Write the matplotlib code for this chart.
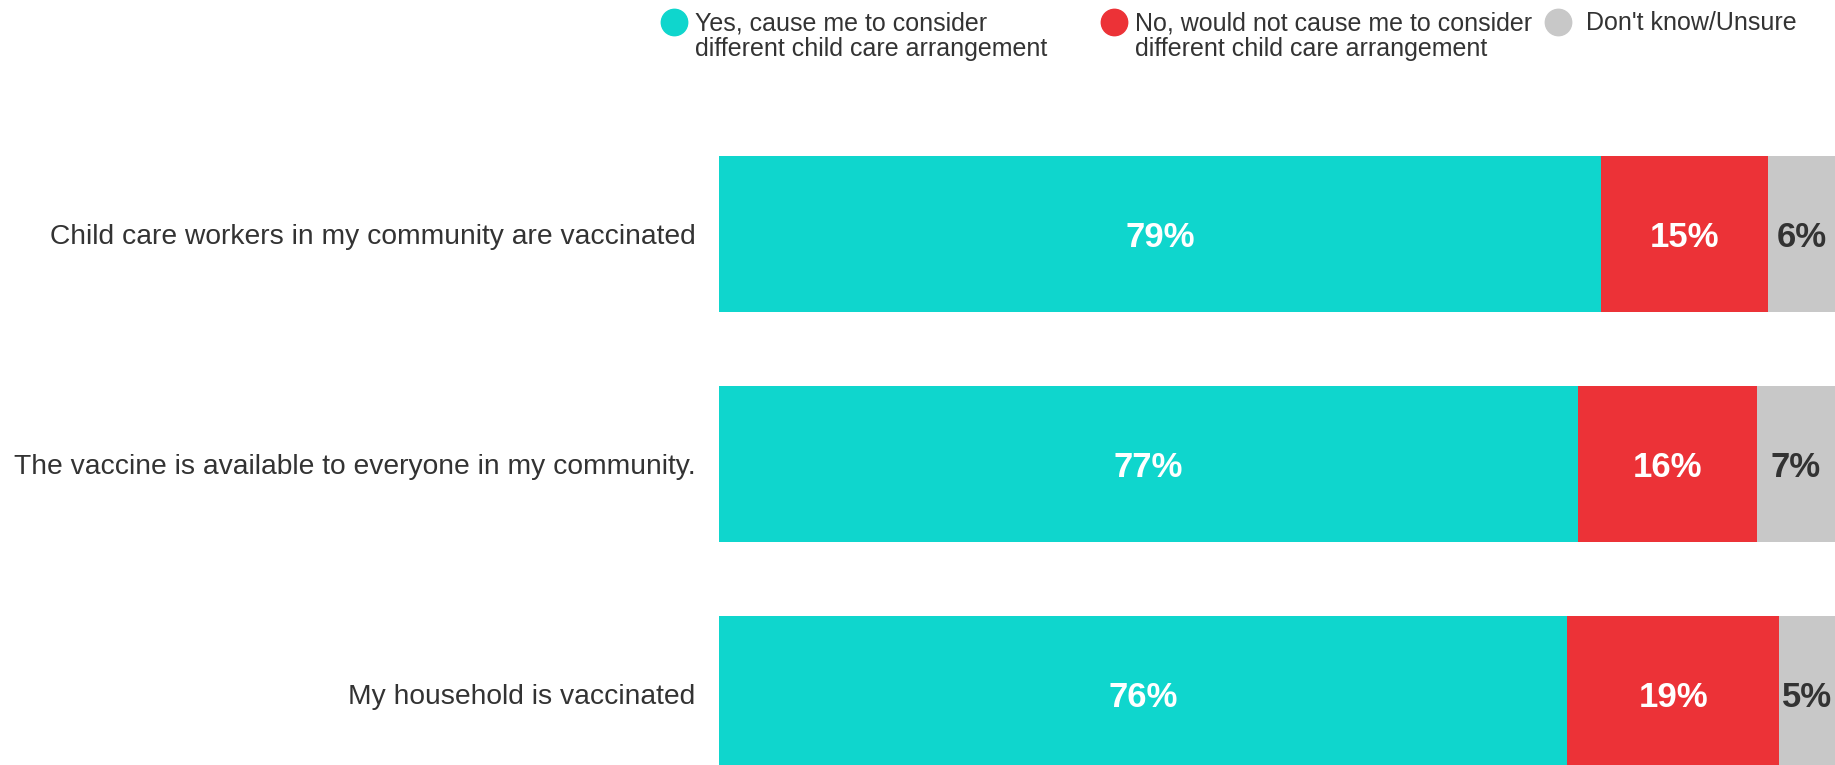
import matplotlib.pyplot as plt
from matplotlib.lines import Line2D
import numpy as np

plt.rcParams['font.family'] = ['Liberation Sans', 'DejaVu Sans']

# data
categories = [
    "Child care workers in my community are vaccinated",
    "The vaccine is available to everyone in my community.",
    "My household is vaccinated",
]
series_names = [
    "Yes, cause me to consider\ndifferent child care arrangement",
    "No, would not cause me to consider\ndifferent child care arrangement",
    "Don't know/Unsure",
]
yes_vals = [79, 77, 76]
no_vals = [15, 16, 19]
unsure_vals = [6, 7, 5]

colors = ["#0FD6CD", "#EC3237", "#C8C8C8"]
label_colors = ["white", "white", "#333333"]

W, H = 1835, 765
fig = plt.figure(figsize=(W / 100, H / 100), dpi=100)
ax = fig.add_axes([719 / W, 0, 1 - 719 / W, 1 - 100 / H])

y = np.arange(len(categories))
left = np.zeros(len(categories))
for vals, col, tcol in zip([yes_vals, no_vals, unsure_vals], colors, label_colors):
    vals = np.array(vals, dtype=float)
    ax.barh(y, vals, left=left, height=0.68, color=col, edgecolor="none")
    for yi, l, v in zip(y, left, vals):
        ax.text(l + v / 2, yi + 0.015, f"{int(v)}%", ha="center", va="center",
                color=tcol, fontsize=25, fontweight="bold")
    left += vals

ax.set_xlim(0, 100)
ax.set_ylim(2.309, -0.583)
ax.set_yticks(y)
ax.set_yticklabels(categories, fontsize=20.3, color="#333333")
ax.tick_params(axis="y", length=0, pad=17)
ax.set_xticks([])
for s in ax.spines.values():
    s.set_visible(False)

# legend drawn by hand so the circles line up with the first text line
marker_x = [674, 1114, 1558]
text_x = [695, 1135, 1586]
for mx, tx, col, name in zip(marker_x, text_x, colors, series_names):
    fig.add_artist(Line2D([mx / W], [1 - 22 / H], marker="o", markersize=19,
                          color=col, linestyle="none", transform=fig.transFigure))
    fig.text(tx / W, 1 - 11 / H, name, ha="left", va="top", fontsize=18,
             color="#333333", linespacing=1.08)

fig.savefig("out.png", dpi=100)
